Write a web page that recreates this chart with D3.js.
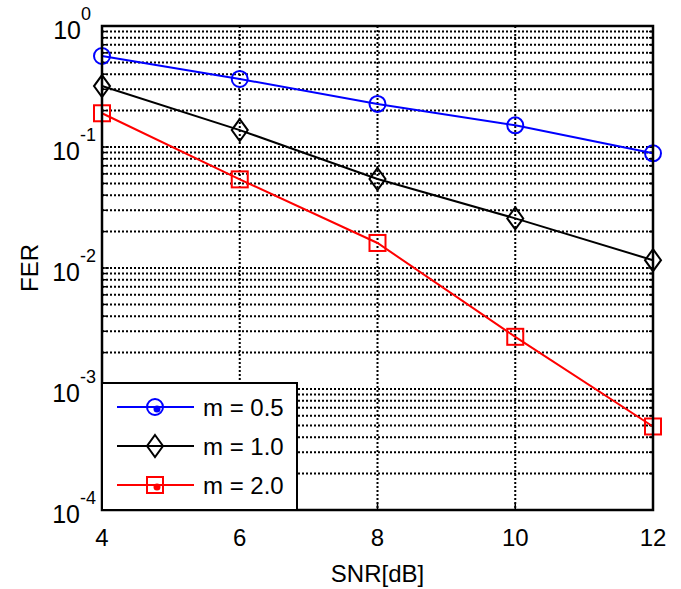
<!DOCTYPE html>
<html>
<head>
<meta charset="utf-8">
<script src="https://cdn.jsdelivr.net/npm/d3@7"></script>
<style>
  body { margin: 0; background: white; }
  text { font-family: "Liberation Sans", Arial, sans-serif; fill: black; }
</style>
</head>
<body>
<svg id="chart"></svg>
<script>
// values
const snr = [4, 6, 8, 10, 12];
const fer_m05 = [0.565, 0.365, 0.227, 0.151, 0.0887];
const fer_m10 = [0.319, 0.138, 0.0544, 0.0257, 0.0116];
const fer_m20 = [0.19, 0.054, 0.0161, 0.0027, 0.00049];
const xTicks = [4, 6, 8, 10, 12];
const yExps = [0, -1, -2, -3, -4];
const seriesNames = ["m = 0.5", "m = 1.0", "m = 2.0"];
const seriesColors = ["#0000ff", "#000000", "#ff0000"];
const seriesMarkers = ["circle", "diamond", "square"];

class FerChart {
  margin = { top: 26, right: 28, bottom: 79, left: 102 }

  constructor(svg, width = 681, height = 589) {
    this.svg = d3.select(svg);
    this.totalW = width;
    this.totalH = height;
    this.width = width - this.margin.left - this.margin.right;
    this.height = height - this.margin.top - this.margin.bottom;
  }

  initialize() {
    this.svg.attr("width", this.totalW).attr("height", this.totalH);
    this.container = this.svg.append("g")
      .attr("transform", `translate(${this.margin.left}, ${this.margin.top})`);

    this.x = d3.scaleLinear().domain([4, 12]).range([0, this.width]);
    this.y = d3.scaleLog().domain([1e-4, 1]).range([this.height, 0]);
  }

  drawGrid() {
    const g = this.container.append("g");
    // minor + major horizontal grid lines (log decades)
    let yGrid = [];
    for (let e = -4; e < 0; e++) {
      for (let k = 1; k < 10; k++) yGrid.push(k * Math.pow(10, e));
    }
    yGrid = yGrid.filter(v => v > 1e-4);
    g.selectAll("line.hgrid")
      .data(yGrid)
      .join("line")
      .attr("class", "hgrid")
      .attr("x1", 0).attr("x2", this.width)
      .attr("y1", d => this.y(d)).attr("y2", d => this.y(d))
      .attr("stroke", "black")
      .attr("stroke-width", 2)
      .attr("stroke-dasharray", "2,2");

    g.selectAll("line.vgrid")
      .data(xTicks.slice(1, -1))
      .join("line")
      .attr("class", "vgrid")
      .attr("x1", d => this.x(d)).attr("x2", d => this.x(d))
      .attr("y1", 0).attr("y2", this.height)
      .attr("stroke", "black")
      .attr("stroke-width", 2)
      .attr("stroke-dasharray", "2,2");

    // inner tick marks
    g.selectAll("line.ytick")
      .data(yGrid)
      .join("line")
      .attr("class", "ytick")
      .attr("x1", 0).attr("x2", d => Number.isInteger(Math.log10(d)) ? 7 : 4)
      .attr("y1", d => this.y(d)).attr("y2", d => this.y(d))
      .attr("stroke", "black").attr("stroke-width", 1.5);
    g.selectAll("line.ytickr")
      .data(yGrid)
      .join("line")
      .attr("class", "ytickr")
      .attr("x1", this.width).attr("x2", d => this.width - (Number.isInteger(Math.log10(d)) ? 7 : 4))
      .attr("y1", d => this.y(d)).attr("y2", d => this.y(d))
      .attr("stroke", "black").attr("stroke-width", 1.5);
    g.selectAll("line.xtick")
      .data(xTicks)
      .join("line")
      .attr("class", "xtick")
      .attr("x1", d => this.x(d)).attr("x2", d => this.x(d))
      .attr("y1", this.height).attr("y2", this.height - 7)
      .attr("stroke", "black").attr("stroke-width", 1.5);
  }

  drawAxes() {
    // frame
    this.container.append("rect")
      .attr("x", 0).attr("y", 0)
      .attr("width", this.width).attr("height", this.height)
      .attr("fill", "none")
      .attr("stroke", "black")
      .attr("stroke-width", 2.5);

    // x tick labels
    this.container.selectAll("text.xlab")
      .data(xTicks)
      .join("text")
      .attr("class", "xlab")
      .attr("x", d => this.x(d))
      .attr("y", this.height + 36)
      .attr("text-anchor", "middle")
      .style("font-size", "24px")
      .text(d => d);

    // y tick labels 10^e
    const ylab = this.container.selectAll("g.ylab")
      .data(yExps)
      .join("g")
      .attr("class", "ylab")
      .attr("transform", d => `translate(0, ${this.y(Math.pow(10, d))})`);
    ylab.append("text")
      .attr("x", d => d < 0 ? -22 : -21)
      .attr("y", 13)
      .attr("text-anchor", "end")
      .style("font-size", "25px")
      .text("10");
    ylab.append("text")
      .attr("x", d => d < 0 ? -22 : -21)
      .attr("y", -6)
      .attr("text-anchor", "start")
      .style("font-size", "18px")
      .text(d => d);

    // axis titles
    this.container.append("text")
      .attr("x", this.width / 2)
      .attr("y", this.height + 72)
      .attr("text-anchor", "middle")
      .style("font-size", "24px")
      .text("SNR[dB]");
    this.container.append("text")
      .attr("transform", `translate(${-64}, ${this.height / 2}) rotate(-90)`)
      .attr("text-anchor", "middle")
      .style("font-size", "24px")
      .text("FER");
  }

  drawMarker(sel, type, color) {
    if (type == "circle") {
      sel.append("circle").attr("r", 8)
        .attr("fill", "none").attr("stroke", color).attr("stroke-width", 2);
    } else if (type == "diamond") {
      sel.append("path").attr("d", "M0,-11L8,0L0,11L-8,0Z")
        .attr("fill", "none").attr("stroke", color).attr("stroke-width", 2);
    } else {
      sel.append("rect").attr("x", -8).attr("y", -8).attr("width", 16).attr("height", 16)
        .attr("fill", "none").attr("stroke", color).attr("stroke-width", 2);
    }
  }

  update() {
    const allSeries = [fer_m05, fer_m10, fer_m20];
    const line = d3.line()
      .x(d => this.x(d[0]))
      .y(d => this.y(d[1]));

    allSeries.forEach((vals, i) => {
      const pts = snr.map((s, j) => [s, vals[j]]);
      this.container.append("path")
        .datum(pts)
        .attr("d", line)
        .attr("fill", "none")
        .attr("stroke", seriesColors[i])
        .attr("stroke-width", 2);
      const m = this.container.selectAll("g.mk" + i)
        .data(pts)
        .join("g")
        .attr("class", "mk" + i)
        .attr("transform", d => `translate(${this.x(d[0])}, ${this.y(d[1])})`);
      this.drawMarker(m, seriesMarkers[i], seriesColors[i]);
    });
  }

  drawLegend() {
    const lg = this.container.append("g")
      .attr("transform", `translate(0, ${this.height - 127})`);
    lg.append("rect")
      .attr("x", 0).attr("y", 0)
      .attr("width", 195).attr("height", 127)
      .attr("fill", "white")
      .attr("stroke", "black")
      .attr("stroke-width", 2);

    const rows = lg.selectAll("g.row")
      .data(seriesNames)
      .join("g")
      .attr("class", "row")
      .attr("transform", (d, i) => `translate(0, ${24 + i * 39})`);
    rows.append("line")
      .attr("x1", 15).attr("x2", 92)
      .attr("y1", 0).attr("y2", 0)
      .attr("stroke", (d, i) => seriesColors[i])
      .attr("stroke-width", 2);
    rows.each((d, i, nodes) => {
      const mk = d3.select(nodes[i]).append("g").attr("transform", "translate(53,0)");
      this.drawMarker(mk, seriesMarkers[i], seriesColors[i]);
      if (i != 1) {
        mk.append("circle").attr("cx", 2).attr("cy", 2).attr("r", 3.5)
          .attr("fill", seriesColors[i]);
      }
    });
    rows.append("text")
      .attr("x", 101)
      .attr("y", 9)
      .style("font-size", "24px")
      .text(d => d);
  }
}

const chart = new FerChart(document.getElementById("chart"));
chart.initialize();
chart.drawGrid();
chart.update();
chart.drawAxes();
chart.drawLegend();
</script>
</body>
</html>
